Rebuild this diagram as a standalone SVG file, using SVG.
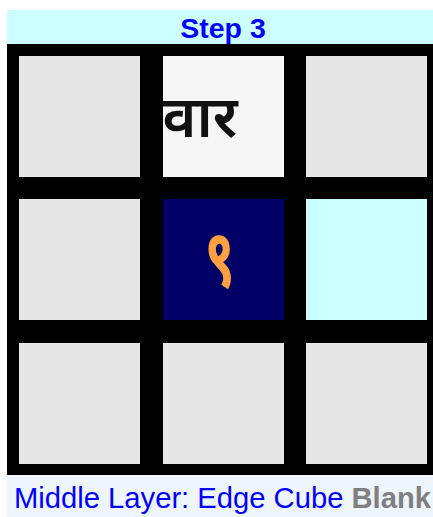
<svg xmlns="http://www.w3.org/2000/svg" width="433" height="517" viewBox="0 0 433 517">
<style>
.cell{fill:#e6e6e6}
.title{font-family:"Liberation Sans",Arial,sans-serif;font-weight:bold;font-size:28.5px;fill:#0000ff}
.cap{font-family:"Liberation Sans",Arial,sans-serif;font-size:29.2px;fill:#0000ff}
.dev{font-family:"Noto Sans","Noto Sans Devanagari","Noto Sans CJK SC",sans-serif}
</style>
<rect width="433" height="517" fill="#ffffff"/>
<g id="header">
<rect x="7" y="10" width="426" height="34" fill="#ccffff"/>
<text class="title" x="223" y="37.5" text-anchor="middle">Step 3</text>
</g>
<rect id="board" x="7" y="44" width="426" height="431" fill="#000000"/>
<g id="c11"><rect class="cell" x="19" y="56" width="121" height="121"/></g>
<g id="c12"><rect x="163" y="56" width="121" height="121" fill="#f6f6f6"/>
<clipPath id="clip12"><rect x="163" y="56" width="121" height="121"/></clipPath>
<text class="dev" x="200" y="137" font-size="58" font-weight="600" text-anchor="middle" fill="#111111" clip-path="url(#clip12)">वार</text></g>
<g id="c13"><rect class="cell" x="306" y="56" width="121" height="121"/></g>
<g id="c21"><rect class="cell" x="19" y="199" width="121" height="121"/></g>
<g id="c22"><rect x="163" y="199" width="121" height="121" fill="#000066"/>
<text class="dev" transform="translate(220,286) scale(0.85,1.25)" x="0" y="0" font-size="64" font-weight="bold" text-anchor="middle" fill="#ffa040">९</text></g>
<g id="c23"><rect x="306" y="199" width="121" height="121" fill="#ccffff"/></g>
<g id="c31"><rect class="cell" x="19" y="343" width="121" height="121"/></g>
<g id="c32"><rect class="cell" x="163" y="343" width="121" height="121"/></g>
<g id="c33"><rect class="cell" x="306" y="343" width="121" height="121"/></g>
<g id="caption">
<rect x="7" y="475" width="426" height="42" fill="#eef5fc"/>
<text class="cap" x="14" y="508">Middle Layer: Edge Cube <tspan font-weight="bold" fill="#808080">Blank</tspan></text>
</g>
</svg>
